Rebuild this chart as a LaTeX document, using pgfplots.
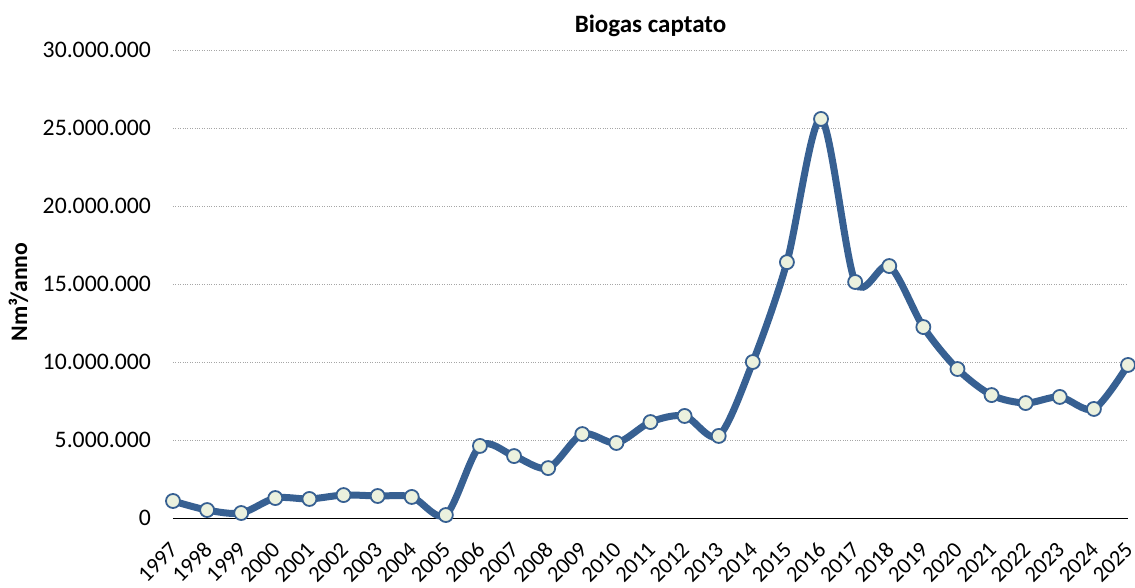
\documentclass[border=0pt]{standalone}
\usepackage{pgfplots}
\pgfplotsset{compat=1.18}
\usepackage{fontspec}
\setmainfont{Carlito}
\definecolor{lineblue}{HTML}{376092}
\definecolor{markfill}{HTML}{EBF1DE}
\begin{document}
\begin{tikzpicture}
\begin{axis}[
  name=ax,
  scale only axis,
  width=955pt, height=468pt,
  xmin=1997, xmax=2025,
  ymin=0, ymax=30000000,
  ytick={0,5000000,10000000,15000000,20000000,25000000,30000000},
  xtick={1997,...,2025},
  scaled y ticks=false,
  /pgf/number format/.cd, 1000 sep={.}, fixed, precision=0, assume math mode=true,
  /pgfplots/.cd,
  xticklabel={\pgfmathprintnumber[1000 sep={},fixed,precision=0]{\tick}},
  axis x line*=bottom,
  axis y line*=left,
  x axis line style={black, line width=0.9pt, -},
  y axis line style={draw=none},
  ymajorgrids,
  grid style={gray!70, dotted, line width=0.8pt},
  major tick length=0pt,
  yticklabel style={font=\fontsize{23.7}{28}\selectfont, anchor=east, inner sep=0pt, xshift=-22pt},
  xticklabel style={font=\fontsize{22.5}{26}\selectfont, xshift=1pt, yshift=-28pt, rotate=45, anchor=east, inner sep=0pt},
  title={\textbf{Biogas captato}},
  title style={font=\fontsize{25}{30}\selectfont, yshift=4pt},
  ylabel={\textbf{Nm³/anno}},
  ylabel style={font=\fontsize{23.7}{28}\selectfont, yshift=11pt, xshift=-8pt},
  clip=false,
]
\addplot[lineblue, line width=7pt, smooth, tension=0.5,
  mark=*, mark size=7pt,
  mark options={fill=markfill, draw=lineblue, line width=1.8pt}]
coordinates {
(1997,1090000) (1998,510000) (1999,320000) (2000,1280000) (2001,1220000)
(2002,1470000) (2003,1410000) (2004,1350000) (2005,190000) (2006,4620000)
(2007,3970000) (2008,3200000) (2009,5380000) (2010,4810000) (2011,6150000)
(2012,6540000) (2013,5260000) (2014,10000000) (2015,16400000) (2016,25580000)
(2017,15130000) (2018,16150000) (2019,12240000) (2020,9550000) (2021,7880000)
(2022,7370000) (2023,7760000) (2024,6990000) (2025,9810000)
};
\end{axis}
\pgfresetboundingbox
\path[use as bounding box] (ax.south west) ++(-173pt,-69pt) rectangle ++(1135pt,587pt);
\end{tikzpicture}
\end{document}
